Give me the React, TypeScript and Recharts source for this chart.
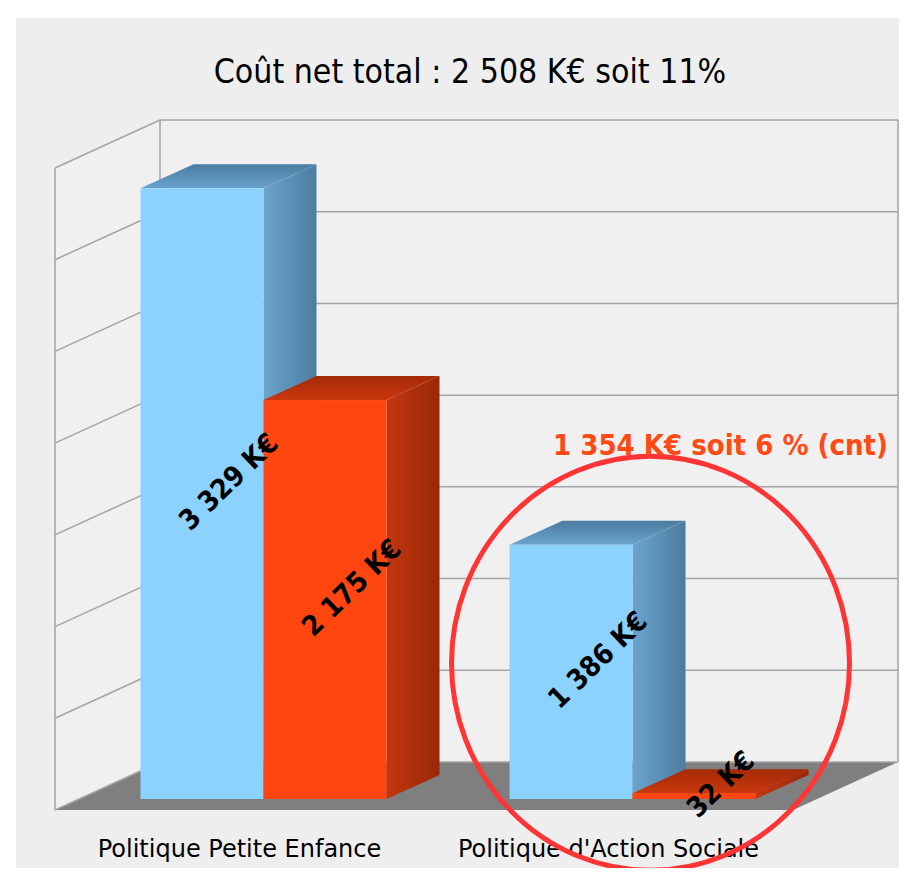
import React from "react";
import {
  BarChart,
  Bar,
  XAxis,
  YAxis,
  CartesianGrid,
  ReferenceArea,
  ReferenceDot,
  LabelList,
} from "recharts";

/* ---------- data ---------- */
const categories = ["Politique Petite Enfance", "Politique d'Action Sociale"];
const coutBrut = [3329, 1386]; // blue boxes
const coutNet = [2175, 32]; // red boxes
const yTicks = [0, 500, 1000, 1500, 2000, 2500, 3000, 3500];
const title = "Coût net total : 2 508 K€ soit 11%";
const note = "1 354 K€ soit 6 % (cnt)";
const noteValue = 740; // where the red ring sits on the value axis

const data = categories.map((name, i) => ({
  name,
  brut: coutBrut[i],
  net: coutNet[i],
}));

/* ---------- fake 3d ---------- */
const BAR_DX = 53;
const BAR_DY = 24;
const FRONT_DX = -24;
const FRONT_DY = 11;
const BACK_DX = 81;
const BACK_DY = -37;
const GRID = "#a4a4a4";
const FONT = '"DejaVu Sans Condensed", "DejaVu Sans", sans-serif';
const FONT_WIDE = '"DejaVu Sans", sans-serif';

const fmt = (n: number) => `${String(n).replace(/\B(?=(\d{3})+(?!\d))/g, " ")} K€`;

const makeBox =
  (id: string, front: string, top: [string, string], side: [string, string]) =>
  (props: any) => {
    const { x, y, width, height, index } = props;
    if (width == null || height == null) return <g />;
    const gid = `${id}-${index}`;
    const x2 = x + width;
    const yb = y + height;
    return (
      <g>
        <defs>
          <linearGradient id={`${gid}-side`} x1="0" y1="0" x2="1" y2="0">
            <stop offset="0" stopColor={side[0]} />
            <stop offset="1" stopColor={side[1]} />
          </linearGradient>
          <linearGradient id={`${gid}-top`} x1="0" y1="1" x2="0" y2="0">
            <stop offset="0" stopColor={top[0]} />
            <stop offset="1" stopColor={top[1]} />
          </linearGradient>
        </defs>
        <polygon
          points={`${x2},${y} ${x2 + BAR_DX},${y - BAR_DY} ${x2 + BAR_DX},${yb - BAR_DY} ${x2},${yb}`}
          fill={`url(#${gid}-side)`}
        />
        <polygon
          points={`${x},${y} ${x + BAR_DX},${y - BAR_DY} ${x2 + BAR_DX},${y - BAR_DY} ${x2},${y}`}
          fill={`url(#${gid}-top)`}
        />
        <rect x={x} y={y} width={width} height={height} fill={front} />
      </g>
    );
  };

const blueBox = makeBox("blue", "#8bd3fe", ["#6aa3cc", "#4c7ca2"], ["#6ba4ce", "#4d7c9f"]);
const redBox = makeBox("red", "#ff4611", ["#c8370e", "#a52b08"], ["#c4360f", "#992808"]);

const boxLabel = (props: any) => {
  const vb = props.viewBox ?? props;
  const cx = vb.x + vb.width / 2 + BAR_DX / 2;
  const cy = vb.y + vb.height / 2 - BAR_DY / 2;
  return (
    <text
      x={cx}
      y={cy}
      transform={`rotate(-44 ${cx} ${cy})`}
      textAnchor="middle"
      dominantBaseline="central"
      fontFamily={FONT}
      fontWeight="bold"
      fontSize={28}
      fill="#000"
    >
      {fmt(props.value)}
    </text>
  );
};

/* walls edges + floor */
const room = (p: any) => {
  const { x, y, width, height } = p;
  const L = x;
  const R = x + width;
  const T = y;
  const B = y + height;
  return (
    <g>
      <polygon
        points={`${L + FRONT_DX},${T + FRONT_DY} ${L + BACK_DX},${T + BACK_DY} ${L + BACK_DX},${B + BACK_DY} ${L + FRONT_DX},${B + FRONT_DY}`}
        fill="#f0f0f0"
      />
      <rect x={L + BACK_DX} y={T + BACK_DY} width={width} height={height} fill="#f0f0f0" />
      <polygon
        points={`${L + FRONT_DX},${B + FRONT_DY} ${R + FRONT_DX},${B + FRONT_DY} ${R + BACK_DX},${B + BACK_DY} ${L + BACK_DX},${B + BACK_DY}`}
        fill="#7f7f7f"
      />
      <line x1={L + FRONT_DX} y1={T + FRONT_DY} x2={L + FRONT_DX} y2={B + FRONT_DY} stroke={GRID} strokeWidth={1.5} />
      <line x1={L + BACK_DX} y1={T + BACK_DY} x2={L + BACK_DX} y2={B + BACK_DY} stroke={GRID} strokeWidth={1.5} />
      <line x1={R + BACK_DX} y1={T + BACK_DY} x2={R + BACK_DX} y2={B + BACK_DY} stroke={GRID} strokeWidth={1.5} />
    </g>
  );
};

/* grid line on back wall + matching line on left wall */
const wallLine = (p: any) => {
  const { x1, y1, x2 } = p;
  return (
    <g key={`wl-${p.index}`}>
      <line x1={x1 + BACK_DX} y1={y1 + BACK_DY} x2={x2 + BACK_DX} y2={y1 + BACK_DY} stroke={GRID} strokeWidth={1.5} />
      <line x1={x1 + FRONT_DX} y1={y1 + FRONT_DY} x2={x1 + BACK_DX} y2={y1 + BACK_DY} stroke={GRID} strokeWidth={1.5} />
    </g>
  );
};

const ring = (p: any) => {
  const { cx, cy } = p;
  return (
    <g>
      <ellipse cx={cx + 18} cy={cy} rx={199} ry={207} fill="none" stroke="#ff3535" strokeWidth={5} />
      <text
        x={cx + 88}
        y={cy - 208}
        textAnchor="middle"
        fill="#ff4a14"
        fontFamily={FONT}
        fontWeight="bold"
        fontSize={29}
      >
        {note}
      </text>
    </g>
  );
};

const CategoryTick = (p: any) => {
  const { x, y, payload } = p;
  return (
    <text x={x + FRONT_DX} y={y} dy={50} textAnchor="middle" fontFamily={FONT_WIDE} fontSize={24} fill="#000">
      {payload.value}
    </text>
  );
};

export default function App() {
  return (
    <div style={{ margin: -8, width: 907, height: 876, position: "relative", background: "#fff", overflow: "hidden" }}>
      <div style={{ position: "absolute", left: 16, top: 18, width: 891, height: 858, background: "#eeeeee" }}>
        <div
          style={{
            position: "absolute",
            left: 54,
            top: 37,
            width: 800,
            textAlign: "center",
            fontFamily: FONT,
            fontSize: 33.5,
            lineHeight: "34px",
            color: "#000",
            whiteSpace: "nowrap",
          }}
        >
          {title}
        </div>
        <BarChart
          width={891}
          height={858}
          data={data}
          margin={{ top: 139, right: 90, left: 63, bottom: 17 }}
          barCategoryGap="16.67%"
          barGap={0}
        >
          <ReferenceArea y1={0} y2={3500} shape={room} zIndex={-200} ifOverflow="visible" />
          <CartesianGrid vertical={false} horizontal={wallLine} />
          <XAxis dataKey="name" axisLine={false} tickLine={false} height={60} tick={<CategoryTick />} interval={0} />
          <YAxis hide domain={[0, 3500]} ticks={yTicks} />
          <Bar dataKey="brut" shape={blueBox} isAnimationActive={false}>
            <LabelList dataKey="brut" content={boxLabel} />
          </Bar>
          <Bar dataKey="net" shape={redBox} isAnimationActive={false}>
            <LabelList dataKey="net" content={boxLabel} />
          </Bar>
          <ReferenceDot x={categories[1]} y={noteValue} shape={ring} zIndex={2100} ifOverflow="visible" />
        </BarChart>
      </div>
    </div>
  );
}
